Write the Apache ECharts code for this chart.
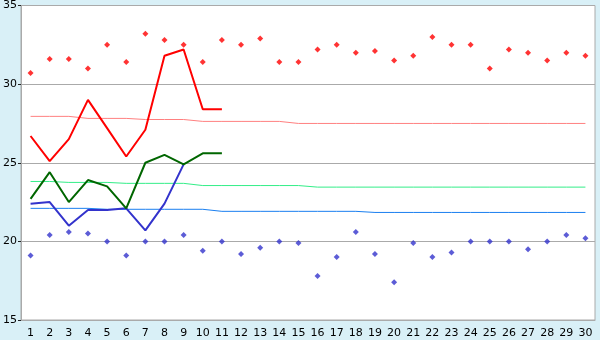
<!DOCTYPE html>
<html>
<head>
<meta charset="utf-8">
<script src="https://cdn.jsdelivr.net/npm/echarts@6/dist/echarts.min.js"></script>
<style>
html,body{margin:0;padding:0;background:#d9f0f7;}
#c{width:600px;height:340px;}
</style>
</head>
<body>
<div id="c"></div>
<script>
var days = [];
for (var i = 1; i <= 30; i++) days.push(String(i));

var yTicks = [15, 20, 25, 30, 35];

var recordHigh = [30.7,31.6,31.6,31.0,32.5,31.4,33.2,32.8,32.5,31.4,32.8,32.5,32.9,31.4,31.4,32.2,32.5,32.0,32.1,31.5,31.8,33.0,32.5,32.5,31.0,32.2,32.0,31.5,32.0,31.8];
var recordLow = [19.1,20.4,20.6,20.5,20.0,19.1,20.0,20.0,20.4,19.4,20.0,19.2,19.6,20.0,19.9,17.8,19.0,20.6,19.2,17.4,19.9,19.0,19.3,20.0,20.0,20.0,19.5,20.0,20.4,20.2];

var maxTemp = [26.7,25.1,26.5,29.0,27.2,25.4,27.1,31.8,32.2,28.4,28.4];
var meanTemp = [22.7,24.4,22.5,23.9,23.5,22.1,25.0,25.5,24.9,25.6,25.6];
var minTemp = [22.4,22.5,21.0,22.0,22.0,22.1,20.7,22.4,24.9];

var normalMax = [27.95,27.95,27.95,27.82,27.82,27.82,27.75,27.75,27.75,27.63,27.63,27.63,27.63,27.63,27.5,27.5,27.5,27.5,27.5,27.5,27.5,27.5,27.5,27.5,27.5,27.5,27.5,27.5,27.5,27.5];
var normalMean = [23.81,23.81,23.75,23.75,23.75,23.69,23.69,23.69,23.69,23.55,23.55,23.55,23.55,23.55,23.55,23.45,23.45,23.45,23.45,23.45,23.45,23.45,23.45,23.45,23.45,23.45,23.45,23.45,23.45,23.45];
var normalMin = [22.1,22.1,22.1,22.1,22.04,22.04,22.04,22.04,22.04,22.04,21.91,21.91,21.91,21.91,21.91,21.91,21.91,21.91,21.84,21.84,21.84,21.84,21.84,21.84,21.84,21.84,21.84,21.84,21.84,21.84];

var chart = echarts.init(document.getElementById('c'), null, {renderer: 'canvas'});
var font = '"DejaVu Sans", Verdana, sans-serif';

function thin(data, color) {
  return {type: 'line', data: data, showSymbol: false, symbol: 'none',
    lineStyle: {color: color, width: 1}, silent: true, z: 2};
}
function thick(data, color, z) {
  return {type: 'line', data: data, showSymbol: false, symbol: 'none',
    lineStyle: {color: color, width: 2}, silent: true, z: z};
}
function pts(data, color) {
  return {type: 'scatter', data: data, symbol: 'diamond', symbolSize: 6,
    itemStyle: {color: color}, silent: true, z: 3};
}

chart.setOption({
  animation: false,
  backgroundColor: '#d9f0f7',
  grid: {left: 20, top: 5, right: 5, bottom: 20, show: true,
    backgroundColor: '#ffffff', borderColor: '#aaaaaa', borderWidth: 1},
  xAxis: {
    type: 'category', data: days, boundaryGap: true,
    axisLine: {lineStyle: {color: '#aaaaaa'}},
    axisTick: {alignWithLabel: true, length: 5, lineStyle: {color: '#222222'}},
    axisLabel: {color: '#000', fontFamily: font, fontSize: 11, margin: 8, interval: 0},
    splitLine: {show: false}
  },
  yAxis: {
    type: 'value', min: yTicks[0], max: yTicks[yTicks.length - 1], interval: 5,
    axisLine: {show: true, lineStyle: {color: '#aaaaaa'}},
    axisTick: {show: true, length: 3, lineStyle: {color: '#222222'}},
    axisLabel: {color: '#000', fontFamily: font, fontSize: 11, margin: 4},
    splitLine: {lineStyle: {color: '#aaaaaa', width: 1}}
  },
  series: [
    thin(normalMax, '#ff8080'),
    thin(normalMean, '#33ee88'),
    thin(normalMin, '#1a7ff0'),
    pts(recordHigh, '#ff0000'),
    pts(recordLow, '#3333cc'),
    thick(minTemp, '#3333cc', 4),
    thick(meanTemp, '#006600', 5),
    thick(maxTemp, '#ff0000', 6)
  ]
});
</script>
</body>
</html>
